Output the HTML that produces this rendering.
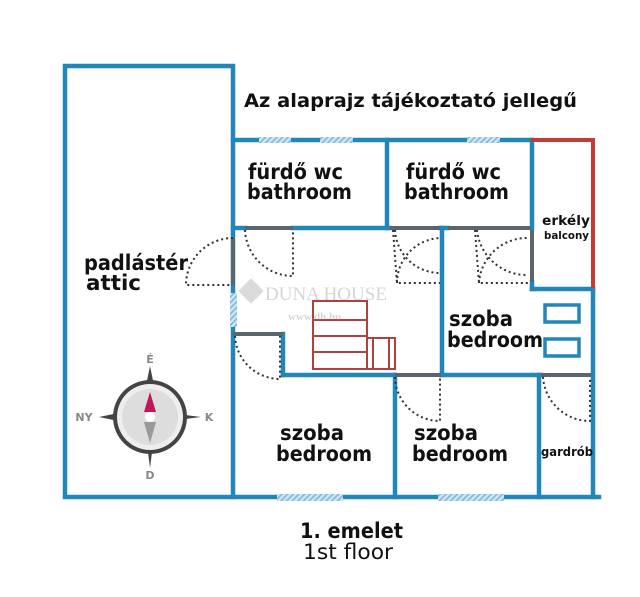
<!DOCTYPE html>
<html><head><meta charset="utf-8"><style>
html,body{margin:0;padding:0;background:#fff;}
svg{display:block;}
text{font-family:"DejaVu Sans","Liberation Sans",sans-serif;font-weight:bold;fill:#111;}
</style></head><body>
<svg width="640" height="597" viewBox="0 0 640 597" xmlns="http://www.w3.org/2000/svg">
<defs>
<pattern id="h" width="4" height="4" patternUnits="userSpaceOnUse" patternTransform="rotate(45)">
<rect width="4" height="4" fill="#cfe6f3"/><rect width="1.6" height="4" fill="#7fb8d8"/>
</pattern>
</defs>
<g stroke="#2187bb" stroke-width="4.5" fill="none" stroke-linecap="square">
<rect x="65" y="66" width="168" height="431"/>
<line x1="233" y1="140" x2="531" y2="140"/>
<line x1="387" y1="140" x2="387" y2="228"/>
<line x1="532" y1="140" x2="532" y2="228"/>
<line x1="233" y1="228" x2="245" y2="228"/>
<line x1="293" y1="228" x2="390" y2="228"/>
<line x1="440" y1="228" x2="448" y2="228"/>
<line x1="532" y1="282" x2="532" y2="289"/>
<line x1="532" y1="289" x2="593" y2="289"/>
<line x1="593" y1="289" x2="593" y2="497"/>
<line x1="442" y1="228" x2="442" y2="375"/>
<line x1="283" y1="334" x2="283" y2="375"/>
<line x1="283" y1="375" x2="395" y2="375"/>
<line x1="441" y1="375" x2="541" y2="375"/>
<line x1="395" y1="375" x2="395" y2="497"/>
<line x1="539" y1="375" x2="539" y2="497"/>
<line x1="233" y1="497" x2="599" y2="497"/>
<rect x="545" y="305" width="34" height="17" stroke-width="3.5"/>
<rect x="545" y="339" width="34" height="17" stroke-width="3.5"/>
</g>
<polyline points="531,140 593,140 593,288" stroke="#c43a36" stroke-width="4" fill="none"/>
<g stroke="#5b666c" stroke-width="4">
<line x1="245" y1="228" x2="293" y2="228"/>
<line x1="390" y1="228" x2="440" y2="228"/>
<line x1="448" y1="228" x2="530" y2="228"/>
<line x1="532" y1="230" x2="532" y2="282"/>
<line x1="233" y1="238" x2="233" y2="285"/>
<line x1="233" y1="334" x2="283" y2="334"/>
<line x1="395" y1="375" x2="441" y2="375"/>
<line x1="541" y1="375" x2="591" y2="375"/>
</g>
<g fill="url(#h)">
<rect x="259" y="137" width="32" height="6"/>
<rect x="320" y="137" width="33" height="6"/>
<rect x="467" y="137" width="33" height="6"/>
<rect x="230" y="293" width="7" height="34"/>
<rect x="277" y="494" width="66" height="7"/>
<rect x="438" y="494" width="66" height="7"/>
</g>
<g stroke="#333" stroke-width="2" stroke-dasharray="2,3" fill="none">
<path d="M233 238 A47 47 0 0 0 186 285 L231 285"/>
<path d="M245 230 A48 48 0 0 0 293 276 L293 230"/>
<path d="M235 336 A45 45 0 0 0 280 379 L280 336"/>
<path d="M393 230 L397 283 L440 283"/>
<path d="M395 230 A45 45 0 0 0 440 273"/>
<path d="M397 283 A45 45 0 0 1 440 238"/>
<path d="M475 230 L479 283 L528 283"/>
<path d="M477 230 A50 50 0 0 0 528 275"/>
<path d="M479 283 A48 48 0 0 1 528 238"/>
<path d="M395 377 A45 45 0 0 0 440 421 L440 377"/>
<path d="M543 377 A47 47 0 0 0 590 421 L590 377"/>
</g>
<g stroke="#b0403c" stroke-width="2" fill="none">
<rect x="313" y="301" width="54" height="68"/>
<line x1="313" y1="320" x2="367" y2="320"/>
<line x1="313" y1="336" x2="367" y2="336"/>
<line x1="313" y1="352" x2="367" y2="352"/>
<rect x="367" y="338" width="28" height="31"/>
<line x1="373" y1="338" x2="373" y2="369"/>
<line x1="389" y1="338" x2="389" y2="369"/>
</g>
<g opacity="0.35">
<rect x="242" y="282" width="18" height="18" fill="#999" transform="rotate(45 251 291)"/>
<text x="265" y="300" style="font-family:'Liberation Serif',serif;font-weight:normal;fill:#888;font-size:19px">DUNA HOUSE</text>
<text x="288" y="320" style="font-family:'Liberation Serif',serif;fill:#888;font-size:11px">www.dh.hu</text>
</g>
<g>
<polygon points="150,366 158,405 150,468 142,405" fill="#444"/>
<polygon points="99,417 138,409 201,417 138,425" fill="#444"/>
<circle cx="150" cy="417" r="37" fill="#444"/>
<circle cx="150" cy="417" r="33" fill="#eee"/>
<circle cx="150" cy="417" r="28" fill="#ddd"/>
<polygon points="150,392 156,412 144,412" fill="#c0195a"/>
<polygon points="150,443 156,422 144,422" fill="#999"/>
<circle cx="150" cy="417" r="5" fill="#fff"/>
<text x="150" y="363" text-anchor="middle" style="font-size:11px;fill:#888">É</text>
<text x="150" y="479" text-anchor="middle" style="font-size:11px;fill:#888">D</text>
<text x="84" y="421" text-anchor="middle" style="font-size:11px;fill:#888">NY</text>
<text x="209" y="421" text-anchor="middle" style="font-size:11px;fill:#888">K</text>
</g>
<g>
<text x="244" y="107" style="font-size:19px" textLength="333" lengthAdjust="spacingAndGlyphs">Az alaprajz tájékoztató jellegű</text>
<text x="248" y="179" style="font-size:21px" textLength="95" lengthAdjust="spacingAndGlyphs">fürdő wc</text>
<text x="247" y="199" style="font-size:21px" textLength="105" lengthAdjust="spacingAndGlyphs">bathroom</text>
<text x="406" y="179" style="font-size:21px" textLength="95" lengthAdjust="spacingAndGlyphs">fürdő wc</text>
<text x="404" y="199" style="font-size:21px" textLength="105" lengthAdjust="spacingAndGlyphs">bathroom</text>
<text x="84" y="270" style="font-size:21px" textLength="104" lengthAdjust="spacingAndGlyphs">padlástér</text>
<text x="86" y="290" style="font-size:21px" textLength="55" lengthAdjust="spacingAndGlyphs">attic</text>
<text x="542" y="225" style="font-size:13px" textLength="48" lengthAdjust="spacingAndGlyphs">erkély</text>
<text x="544" y="239" style="font-size:11px" textLength="45" lengthAdjust="spacingAndGlyphs">balcony</text>
<text x="449" y="326" style="font-size:21px" textLength="64" lengthAdjust="spacingAndGlyphs">szoba</text>
<text x="447" y="347" style="font-size:21px" textLength="96" lengthAdjust="spacingAndGlyphs">bedroom</text>
<text x="280" y="440" style="font-size:21px" textLength="64" lengthAdjust="spacingAndGlyphs">szoba</text>
<text x="276" y="461" style="font-size:21px" textLength="96" lengthAdjust="spacingAndGlyphs">bedroom</text>
<text x="414" y="440" style="font-size:21px" textLength="64" lengthAdjust="spacingAndGlyphs">szoba</text>
<text x="412" y="461" style="font-size:21px" textLength="96" lengthAdjust="spacingAndGlyphs">bedroom</text>
<text x="541" y="456" style="font-size:12px" textLength="52" lengthAdjust="spacingAndGlyphs">gardrób</text>
<text x="300" y="538" style="font-size:21px" textLength="103" lengthAdjust="spacingAndGlyphs">1. emelet</text>
<text x="303" y="559" style="font-size:21px;font-weight:normal" textLength="90" lengthAdjust="spacingAndGlyphs">1st floor</text>
</g>
</svg>
</body></html>
